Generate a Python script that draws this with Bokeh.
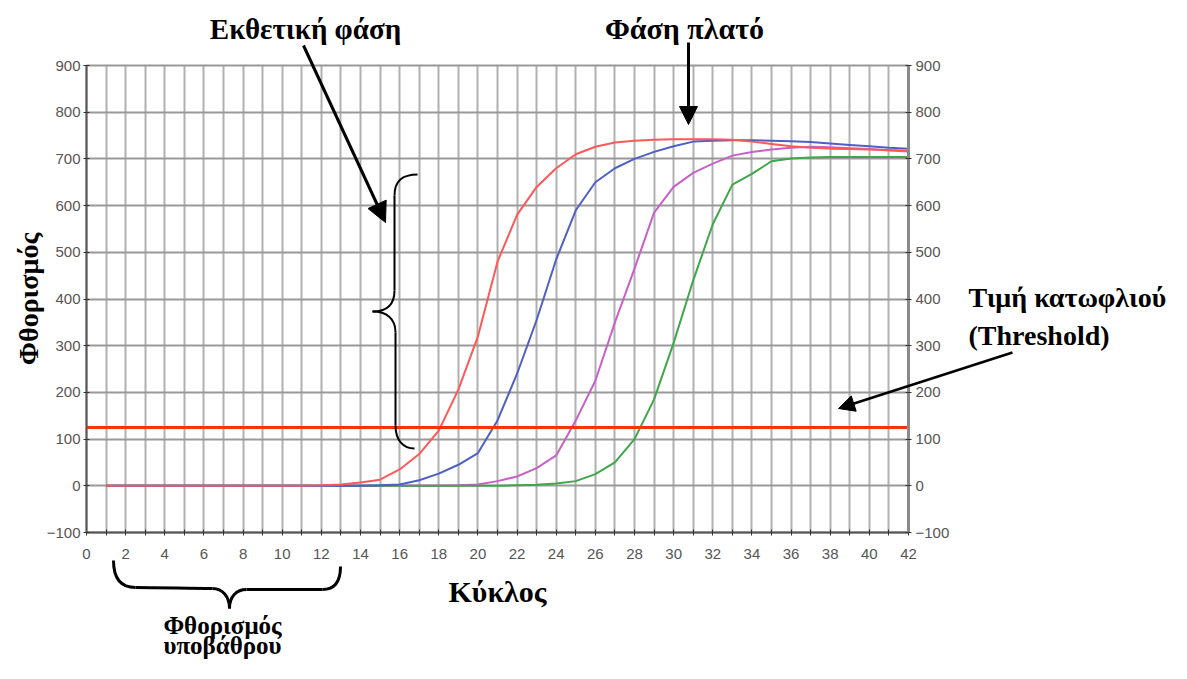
from bokeh.plotting import figure
from bokeh.models import LinearAxis, FixedTicker, Label, Arrow, NormalHead, Range1d
from bokeh.embed import file_html
from bokeh.resources import INLINE

# ---------------- data ----------------
cycles = list(range(1, 43))
red = [0] * 11 + [1, 3, 7, 13, 35, 68, 118, 206, 320, 480, 580, 640, 680, 710, 726, 735,
                  739, 741, 742, 742, 742, 741, 737, 732, 727, 724, 722, 721, 720, 719, 718]
blue = [0] * 14 + [1, 3, 12, 26, 45, 70, 140, 240, 355, 485, 590, 650, 680, 700, 715, 727,
                   737, 739, 740, 740, 739, 738, 736, 733, 730, 727, 724, 722]
magenta = [0] * 18 + [1, 3, 10, 20, 38, 65, 140, 225, 350, 465, 585, 640, 670, 690, 707, 715,
                      720, 724, 726, 725, 723, 721, 718, 716]
green = [0] * 21 + [1, 2, 5, 10, 25, 50, 100, 185, 306, 440, 560, 645, 668, 695, 701, 703,
                    704, 704, 704, 704, 704]
threshold = 125
x_ticks = list(range(0, 43, 2))
x_minor = list(range(1, 42, 2))
y_ticks = list(range(-100, 1000, 100))

x_label = "Κύκλος"
y_label = "Φθορισμός"
lbl_exp = "Εκθετική φάση"
lbl_plateau = "Φάση πλατό"
lbl_thr1 = "Τιμή κατωφλιού"
lbl_thr2 = "(Threshold)"
lbl_bg1 = "Φθορισμός"
lbl_bg2 = "υποβάθρου"

# ---------------- layout geometry ----------------
W, H = 1171, 663
BOX_L, BOX_R, BOX_T, BOX_B = 86, 908, 65, 532   # chart box in picture pixels
X_MIN, X_MAX = 0, 42
Y_MIN, Y_MAX = -100, 900
ppx = (BOX_R - BOX_L) / (X_MAX - X_MIN)
ppy = (BOX_B - BOX_T) / (Y_MAX - Y_MIN)
x_start = X_MIN - BOX_L / ppx
x_end = X_MAX + (W - BOX_R) / ppx
y_end = Y_MAX + BOX_T / ppy
y_start = Y_MIN - (H - BOX_B) / ppy


def dx(px):
    return X_MIN + (px - BOX_L) / ppx


def dy(py):
    return Y_MIN + (BOX_B - py) / ppy


p = figure(width=W, height=H, x_range=Range1d(x_start, x_end), y_range=Range1d(y_start, y_end),
           output_backend="svg", toolbar_location=None, min_border=0)
p.outline_line_color = None
p.background_fill_color = "white"
p.border_fill_color = "white"

TICK_FONT = "Liberation Sans"
SERIF = "Liberation Serif"

# x axis
xa = p.xaxis[0]
xa.fixed_location = Y_MIN
xa.bounds = (X_MIN, X_MAX)
xa.ticker = FixedTicker(ticks=x_ticks, minor_ticks=x_minor)
xa.axis_line_color = "#555555"
xa.axis_line_width = 2
xa.major_tick_in = 3
xa.major_tick_out = 3
xa.minor_tick_in = 3
xa.minor_tick_out = 3
xa.major_tick_line_color = "#333333"
xa.minor_tick_line_color = "#333333"
xa.major_label_standoff = 13
xa.major_label_text_font = TICK_FONT
xa.major_label_text_font_size = "15px"
xa.major_label_text_color = "#555555"
xa.axis_label = x_label
xa.axis_label_text_font = SERIF
xa.axis_label_text_font_style = "bold"
xa.axis_label_text_font_size = "30px"
xa.axis_label_text_color = "black"
xa.axis_label_standoff = 13

# left y axis
ya = p.yaxis[0]
ya.fixed_location = X_MIN
ya.bounds = (Y_MIN, Y_MAX)
ya.ticker = FixedTicker(ticks=y_ticks)
ya.axis_line_color = "#555555"
ya.axis_line_width = 2
ya.major_tick_in = 3
ya.major_tick_out = 3
ya.minor_tick_line_color = None
ya.major_tick_line_color = "#333333"
ya.major_label_standoff = 3
ya.major_label_text_font = TICK_FONT
ya.major_label_text_font_size = "15px"
ya.major_label_text_color = "#555555"
ya.axis_label = y_label
ya.axis_label_text_font = SERIF
ya.axis_label_text_font_style = "bold"
ya.axis_label_text_font_size = "28px"
ya.axis_label_text_color = "black"
ya.axis_label_standoff = 0

# right y axis
ra = LinearAxis(fixed_location=X_MAX, bounds=(Y_MIN, Y_MAX), ticker=FixedTicker(ticks=y_ticks))
ra.axis_line_color = "#8a8a8a"
ra.axis_line_width = 3
ra.major_tick_in = 3
ra.major_tick_out = 3
ra.minor_tick_line_color = None
ra.major_tick_line_color = "#333333"
ra.major_label_standoff = 4
ra.major_label_text_font = TICK_FONT
ra.major_label_text_font_size = "15px"
ra.major_label_text_color = "#555555"
p.add_layout(ra, "right")

# grids
xg = p.xgrid[0]
xg.ticker = xa.ticker
xg.bounds = (X_MIN, X_MAX)
xg.grid_line_color = "#b0b0b0"
xg.grid_line_width = 2
xg.minor_grid_line_color = "#b0b0b0"
xg.minor_grid_line_width = 2
yg = p.ygrid[0]
yg.ticker = ya.ticker
yg.bounds = (Y_MIN, Y_MAX)
yg.grid_line_color = "#999999"
yg.grid_line_width = 2
try:
    xg.cross_bounds = (Y_MIN, Y_MAX)
    yg.cross_bounds = (X_MIN, X_MAX)
except Exception:
    pass

# curves
p.line(cycles, magenta, line_color="#c860c8", line_width=2)
p.line(cycles, green, line_color="#3fa64a", line_width=2)
p.line(cycles, blue, line_color="#4f5fc4", line_width=2)
p.line(cycles, red, line_color="#ff5858", line_width=2)

# threshold
p.line([X_MIN, X_MAX], [threshold, threshold], line_color="#ff3300", line_width=3)


# ---------------- annotations ----------------
def lab(txt, px, py, align="center", size="29px"):
    p.add_layout(Label(x=dx(px), y=dy(py), text=txt, text_font=SERIF, text_font_style="bold",
                       text_font_size=size, text_color="black", text_align=align,
                       text_baseline="middle"))


lab(lbl_exp, 305, 28)
lab(lbl_plateau, 684, 28, size="30px")
lab(lbl_thr1, 968, 297, align="left", size="28px")
lab(lbl_thr2, 968, 335, align="left", size="28px")
lab(lbl_bg1, 222, 625, size="25px")
lab(lbl_bg2, 222, 645, size="25px")

p.add_layout(Arrow(x_start=dx(303), y_start=dy(45), x_end=dx(385), y_end=dy(222),
                   line_width=3, line_color="black",
                   end=NormalHead(size=20, fill_color="black", line_color="black")))
p.add_layout(Arrow(x_start=dx(688), y_start=dy(42), x_end=dx(688), y_end=dy(124),
                   line_width=3, line_color="black",
                   end=NormalHead(size=18, fill_color="black", line_color="black")))
p.add_layout(Arrow(x_start=dx(1012), y_start=dy(352), x_end=dx(838), y_end=dy(408),
                   line_width=2.5, line_color="black",
                   end=NormalHead(size=16, fill_color="black", line_color="black")))


def brace(segs, width):
    p.bezier(x0=[dx(s[0][0]) for s in segs], y0=[dy(s[0][1]) for s in segs],
             x1=[dx(s[3][0]) for s in segs], y1=[dy(s[3][1]) for s in segs],
             cx0=[dx(s[1][0]) for s in segs], cy0=[dy(s[1][1]) for s in segs],
             cx1=[dx(s[2][0]) for s in segs], cy1=[dy(s[2][1]) for s in segs],
             line_color="black", line_width=width)


# vertical brace (exponential phase)
brace([
    ((417, 174), (402, 174), (394, 180), (394, 195)),
    ((394, 195), (394, 240), (394, 250), (394, 290)),
    ((394, 290), (394, 305), (385, 311), (372, 311)),
    ((372, 311), (386, 311), (395, 318), (395, 332)),
    ((395, 332), (395, 380), (395, 390), (395, 425)),
    ((395, 425), (395, 440), (403, 448), (414, 448)),
], 2)

# horizontal brace (background fluorescence)
brace([
    ((113, 560), (113, 578), (120, 587), (135, 587)),
    ((135, 587), (160, 587), (190, 588), (212, 588)),
    ((212, 588), (222, 588), (229, 596), (229, 608)),
    ((229, 608), (229, 596), (236, 589), (246, 589)),
    ((246, 589), (270, 589), (300, 589), (322, 589)),
    ((322, 589), (336, 589), (340, 578), (340, 566)),
], 3)

open("out.html", "w").write(file_html(p, INLINE))
